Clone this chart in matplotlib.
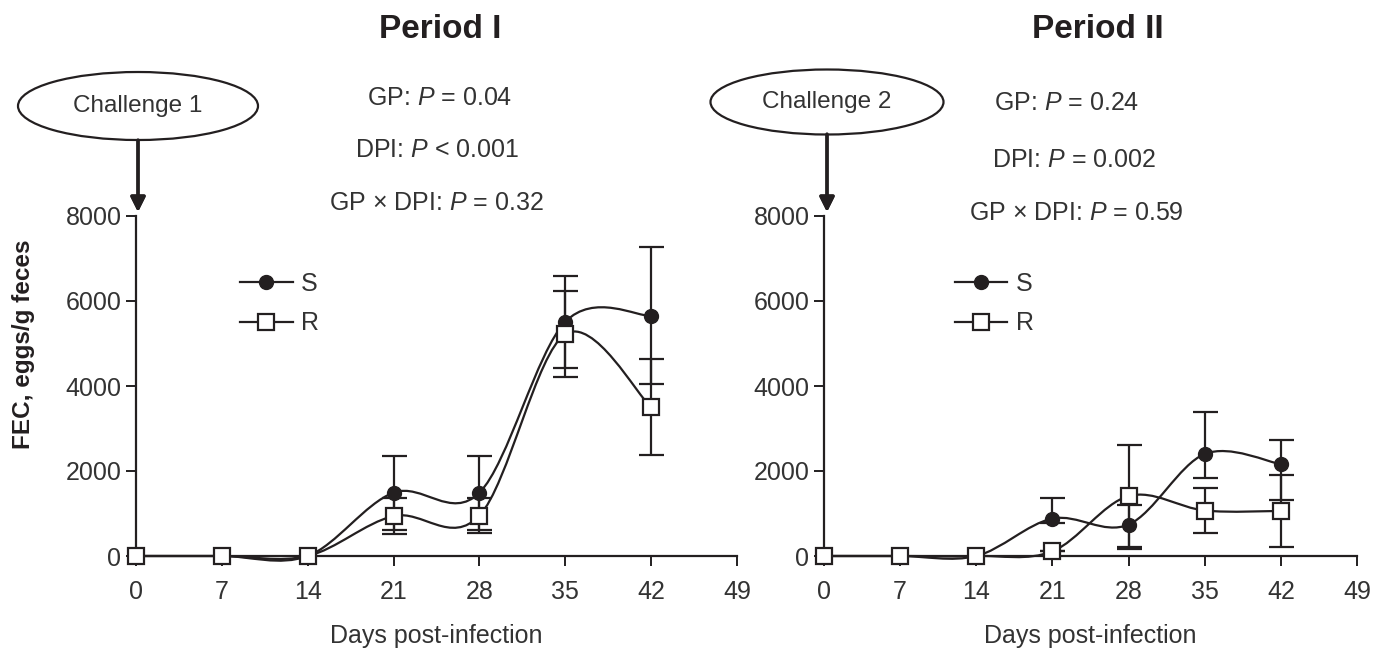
import numpy as np
import matplotlib.pyplot as plt
from matplotlib.path import Path
from matplotlib.patches import PathPatch, Ellipse
from matplotlib.lines import Line2D

plt.rcParams['font.family'] = ['Liberation Sans', 'DejaVu Sans']
plt.rcParams['mathtext.fontset'] = 'custom'
plt.rcParams['mathtext.it'] = 'Liberation Sans:italic'
plt.rcParams['mathtext.rm'] = 'Liberation Sans'

ink = '#231f20'
W, H = 1390, 648

days = [0, 7, 14, 21, 28, 35, 42]
xticks = [0, 7, 14, 21, 28, 35, 42, 49]
yticks = [0, 2000, 4000, 6000, 8000]

# Period I
p1_s = [0, 0, 0, 1490, 1490, 5510, 5650]
p1_s_lo = [0, 0, 0, 870, 870, 1080, 1610]
p1_s_hi = [0, 0, 0, 870, 870, 1080, 1620]
p1_r = [0, 0, 0, 940, 950, 5220, 3500]
p1_r_lo = [0, 0, 0, 420, 420, 1020, 1130]
p1_r_hi = [0, 0, 0, 420, 420, 1020, 1130]

# Period II
p2_s = [0, 0, 0, 880, 740, 2400, 2160]
p2_s_lo = [0, 0, 0, 110, 570, 560, 840]
p2_s_hi = [0, 0, 0, 490, 460, 980, 580]
p2_r = [0, 0, 0, 110, 1410, 1070, 1060]
p2_r_lo = [0, 0, 0, 0, 1200, 540, 840]
p2_r_hi = [0, 0, 0, 0, 1200, 540, 840]

stats1 = [r'GP: $\it{P}$ = 0.04', r'DPI: $\it{P}$ < 0.001', r'GP × DPI: $\it{P}$ = 0.32']
stats2 = [r'GP: $\it{P}$ = 0.24', r'DPI: $\it{P}$ = 0.002', r'GP × DPI: $\it{P}$ = 0.59']


def smooth_path(x, y):
    # Excel-like smoothed line as cubic Bezier segments through the points
    pts = np.column_stack([x, y]).astype(float)
    n = len(pts)
    verts = [pts[0]]
    codes = [Path.MOVETO]
    for i in range(n - 1):
        p0 = pts[max(i - 1, 0)]
        p1 = pts[i]
        p2 = pts[i + 1]
        p3 = pts[min(i + 2, n - 1)]
        verts += [p1 + (p2 - p0) / 6, p2 - (p3 - p1) / 6, p2]
        codes += [Path.CURVE4] * 3
    return Path(verts, codes)


def fx(px):
    return px / W


def fy(py):
    return 1 - py / H


fig = plt.figure(figsize=(13.9, 6.48), dpi=100)
ax1 = fig.add_axes([fx(136), fy(556), fx(737) - fx(136), fy(216) - fy(556)])
ax2 = fig.add_axes([fx(824), fy(556), fx(1357) - fx(824), fy(216) - fy(556)])

panels = [
    (ax1, p1_s, p1_s_lo, p1_s_hi, p1_r, p1_r_lo, p1_r_hi),
    (ax2, p2_s, p2_s_lo, p2_s_hi, p2_r, p2_r_lo, p2_r_hi),
]

for ax, s, slo, shi, r, rlo, rhi in panels:
    ax.set_xlim(0, 49)
    ax.set_ylim(0, 8000)
    for sp in ['top', 'right']:
        ax.spines[sp].set_visible(False)
    for sp in ['left', 'bottom']:
        ax.spines[sp].set_color(ink)
        ax.spines[sp].set_linewidth(1.6)
    ax.set_xticks(xticks)
    ax.set_yticks(yticks)
    ax.tick_params(colors=ink, labelcolor='#333333', labelsize=18, length=7, width=1.4, direction='out')
    ax.tick_params(axis='x', pad=10.5)
    ax.set_xlabel('Days post-infection', fontsize=18, color='#333333', labelpad=14)

    # error bars (only where there is spread)
    ax.errorbar(days[3:], s[3:], yerr=[slo[3:], shi[3:]], fmt='none', ecolor=ink,
                elinewidth=1.6, capsize=9, capthick=1.6, zorder=2, clip_on=False)
    ax.errorbar(days[3:], r[3:], yerr=[rlo[3:], rhi[3:]], fmt='none', ecolor=ink,
                elinewidth=1.6, capsize=9, capthick=1.6, zorder=2, clip_on=False)

    for yy in (s, r):
        ax.add_patch(PathPatch(smooth_path(days, yy), fill=False, edgecolor=ink,
                               lw=1.6, zorder=3, clip_on=False))

    ax.plot(days, s, ls='none', marker='o', ms=10, mfc=ink, mec=ink, zorder=4, clip_on=False)
    ax.plot(days, r, ls='none', marker='s', ms=11, mfc='white', mec=ink, mew=1.6,
            zorder=5, clip_on=False)

    handles = [
        Line2D([], [], color=ink, lw=1.6, marker='o', ms=10, mfc=ink, mec=ink),
        Line2D([], [], color=ink, lw=1.6, marker='s', ms=11, mfc='white', mec=ink, mew=1.6),
    ]
    lx = 240 if ax is ax1 else 955
    ax.legend(handles, ['S', 'R'], loc='upper left', bbox_to_anchor=(fx(lx), fy(272)),
              bbox_transform=fig.transFigure, frameon=False, fontsize=18,
              handlelength=2.1, handletextpad=0.35, labelspacing=0.62,
              borderpad=0, borderaxespad=0, labelcolor='#333333')

fig.text(fx(24), fy(344), 'FEC, eggs/g feces', rotation=90, fontsize=17.5,
         fontweight='bold', color=ink, ha='center', va='center')

fig.text(fx(440), fy(30), 'Period I', fontsize=24, fontweight='bold', color=ink,
         ha='center', va='center')
fig.text(fx(1098), fy(30), 'Period II', fontsize=24, fontweight='bold', color=ink,
         ha='center', va='center')

for txt, (px, py) in zip(stats1, [(440, 98), (437, 150), (436, 203)]):
    fig.text(fx(px), fy(py), txt, fontsize=18, color='#333333', ha='center', va='center')
for txt, (px, py) in zip(stats2, [(1067, 103), (1074, 160), (1076, 213)]):
    fig.text(fx(px), fy(py), txt, fontsize=18, color='#333333', ha='center', va='center')

# challenge callouts
for label, cx, cy, ew, eh, top, tip in [
    ('Challenge 1', 138, 106, 240, 68, 140, 212),
    ('Challenge 2', 827, 102, 233, 65, 134, 212),
]:
    fig.add_artist(Ellipse((fx(cx), fy(cy)), ew / W, eh / H, transform=fig.transFigure,
                           facecolor='white', edgecolor=ink, lw=1.6))
    fig.text(fx(cx), fy(cy), label, fontsize=17.5, color='#333333', ha='center', va='center')
    fig.add_artist(plt.annotate('', xy=(fx(cx), fy(tip)), xytext=(fx(cx), fy(top)),
                                xycoords='figure fraction', textcoords='figure fraction',
                                arrowprops=dict(arrowstyle='-|>', color=ink, lw=2.4,
                                                mutation_scale=22, shrinkA=0, shrinkB=0)))

fig.savefig('out.png', dpi=100)
